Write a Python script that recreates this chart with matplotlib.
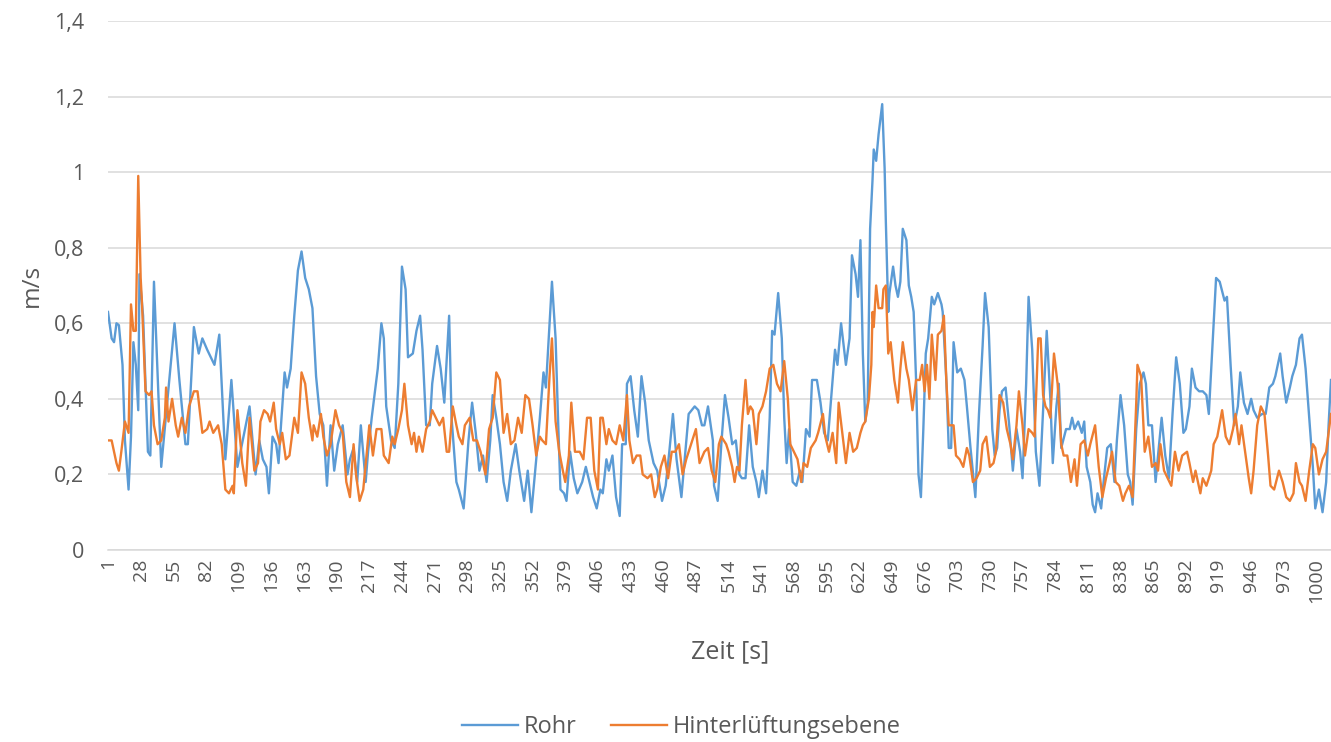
import matplotlib
matplotlib.use("Agg")
import matplotlib.pyplot as plt
from matplotlib.lines import Line2D

# Data (time in s, velocity in m/s)
rohr_t = [1, 4, 6, 8, 10, 13, 15, 18, 20, 22, 24, 26, 27, 30, 32, 34, 36, 39, 45, 56,
          60, 65, 67, 72, 76, 79, 83, 89, 93, 95, 98, 103, 108, 118,
          121, 123, 126, 129, 132, 134, 137, 140, 142, 144, 147, 149, 152, 155, 158, 161,
          164, 167, 170, 173, 176, 179, 182, 185, 188, 191, 195, 199, 201, 204, 207, 210,
          214, 216, 219, 224, 227, 229, 231, 235, 238, 241, 244,
          247, 249, 253, 256, 259, 261, 264, 267, 269, 273, 276, 279, 283, 285, 289, 291,
          295, 299, 302, 305, 308, 311, 314, 317, 319, 322, 325, 328, 331, 334, 338, 341,
          345, 348, 351, 355, 358, 361, 363, 366, 368,
          371, 373, 375, 378, 380, 383, 386, 389, 393, 396, 399, 402, 405, 408, 410, 413,
          415, 418, 421, 424, 426, 429, 430, 433, 436, 439, 442, 445, 448, 452, 455, 459,
          462, 465, 468, 471, 475, 478, 481, 486, 489, 492,
          494, 497, 501, 502, 505, 508, 511, 514, 517, 520, 523, 525, 528, 531, 534, 537,
          539, 542, 545, 548, 550, 552, 555, 558, 560, 562, 564, 567, 570, 573, 575, 578,
          581, 583, 587, 590, 593, 596, 599, 602, 604, 607, 611, 614,
          616, 619, 621, 623, 625, 627, 629, 631, 633, 634, 636, 638, 641, 643, 644, 646,
          647, 650, 652, 654, 656, 658, 661, 663, 665, 667, 669, 671, 673, 675, 677, 679,
          682, 684, 687, 690, 691, 694, 696, 698, 700, 703, 706, 709, 711, 714, 718, 721,
          724, 726, 729, 732, 734, 736,
          738, 740, 743, 746, 749, 752, 755, 757, 760, 762, 765, 768, 771, 774, 777, 780,
          782, 785, 787, 789, 793, 796, 798, 800, 803, 806, 808, 810, 813, 815, 817, 819,
          822, 824, 827, 830, 833, 835, 838, 841, 844, 846, 848, 851, 854, 857, 859,
          861, 864, 867, 869, 872, 875, 878, 881, 884, 887, 890, 892, 895, 897, 900, 903,
          906, 909, 911, 914, 917, 920, 924, 926, 929, 932, 935, 937, 940, 943, 946, 948,
          951, 955, 958, 961, 964, 966, 970, 972, 975, 978, 980, 983, 986, 988, 991, 994,
          997, 999, 1002, 1005, 1008, 1010, 1012]
rohr_v = [0.63, 0.56, 0.55, 0.60, 0.595, 0.49, 0.29, 0.16, 0.30, 0.55, 0.49, 0.37, 0.73, 0.62, 0.44, 0.26, 0.25, 0.71, 0.22, 0.60,
          0.45, 0.28, 0.28, 0.59, 0.52, 0.56, 0.53, 0.49, 0.57, 0.44, 0.24, 0.45, 0.22, 0.38,
          0.27, 0.20, 0.29, 0.24, 0.22, 0.15, 0.30, 0.28, 0.23, 0.33, 0.47, 0.43, 0.48, 0.62, 0.74, 0.79,
          0.72, 0.69, 0.64, 0.46, 0.36, 0.33, 0.17, 0.33, 0.21, 0.28, 0.33, 0.20, 0.24, 0.27, 0.18, 0.33,
          0.18, 0.26, 0.35, 0.48, 0.60, 0.56, 0.38, 0.29, 0.27, 0.44, 0.75,
          0.69, 0.51, 0.52, 0.58, 0.62, 0.53, 0.33, 0.33, 0.44, 0.54, 0.48, 0.39, 0.62, 0.35, 0.18, 0.16,
          0.11, 0.29, 0.39, 0.31, 0.21, 0.25, 0.18, 0.29, 0.41, 0.35, 0.28, 0.18, 0.13, 0.21, 0.28, 0.21,
          0.13, 0.21, 0.10, 0.24, 0.35, 0.47, 0.43, 0.60, 0.71,
          0.56, 0.35, 0.16, 0.15, 0.13, 0.26, 0.19, 0.15, 0.18, 0.22, 0.18, 0.14, 0.11, 0.16, 0.15, 0.24,
          0.21, 0.25, 0.14, 0.09, 0.28, 0.28, 0.44, 0.46, 0.37, 0.30, 0.46, 0.39, 0.29, 0.23, 0.21, 0.13,
          0.17, 0.26, 0.36, 0.24, 0.14, 0.25, 0.36, 0.38, 0.37, 0.33,
          0.33, 0.38, 0.29, 0.17, 0.13, 0.28, 0.41, 0.35, 0.28, 0.29, 0.20, 0.19, 0.19, 0.33, 0.22, 0.18,
          0.14, 0.21, 0.15, 0.35, 0.58, 0.57, 0.68, 0.56, 0.35, 0.23, 0.32, 0.18, 0.17, 0.21, 0.18, 0.32,
          0.30, 0.45, 0.45, 0.39, 0.31, 0.29, 0.41, 0.53, 0.49, 0.60, 0.49, 0.56,
          0.78, 0.73, 0.67, 0.82, 0.52, 0.34, 0.39, 0.85, 0.98, 1.06, 1.03, 1.10, 1.18, 1.01, 0.87, 0.63,
          0.68, 0.75, 0.70, 0.67, 0.71, 0.85, 0.82, 0.70, 0.67, 0.63, 0.45, 0.20, 0.14, 0.32, 0.52, 0.56,
          0.67, 0.65, 0.68, 0.65, 0.63, 0.45, 0.27, 0.27, 0.55, 0.47, 0.48, 0.45, 0.38, 0.27, 0.14, 0.36,
          0.54, 0.68, 0.59, 0.32, 0.25, 0.27,
          0.37, 0.42, 0.43, 0.33, 0.21, 0.32, 0.26, 0.19, 0.44, 0.67, 0.53, 0.26, 0.17, 0.37, 0.58, 0.40,
          0.23, 0.38, 0.44, 0.27, 0.32, 0.32, 0.35, 0.32, 0.34, 0.31, 0.34, 0.22, 0.18, 0.12, 0.10, 0.15,
          0.11, 0.18, 0.27, 0.28, 0.18, 0.29, 0.41, 0.33, 0.20, 0.18, 0.12, 0.32, 0.44, 0.47, 0.44,
          0.33, 0.33, 0.18, 0.25, 0.35, 0.25, 0.19, 0.36, 0.51, 0.44, 0.31, 0.32, 0.38, 0.48, 0.43, 0.42,
          0.42, 0.41, 0.36, 0.54, 0.72, 0.71, 0.66, 0.67, 0.49, 0.33, 0.38, 0.47, 0.39, 0.36, 0.40, 0.37,
          0.35, 0.36, 0.36, 0.43, 0.44, 0.46, 0.52, 0.46, 0.39, 0.43, 0.46, 0.49, 0.56, 0.57, 0.48, 0.35,
          0.22, 0.11, 0.16, 0.10, 0.18, 0.33, 0.45]

hint_t = [1, 4, 8, 10, 12, 15, 18, 20, 22, 24, 26, 28, 29, 30, 32, 35, 37, 39, 42, 45,
          48, 49, 51, 54, 57, 59, 62, 65, 68, 72, 75, 79, 83, 85, 88, 92, 95, 98, 101, 104,
          105, 108, 112, 115, 118,
          122, 125, 127, 130, 133, 135, 138, 140, 143, 145, 148, 151, 155, 158, 161, 164,
          167, 170, 171, 174, 177, 179, 182, 185, 189, 192, 195, 198, 201, 204, 206, 209,
          212, 215, 217, 220, 223, 227, 229, 233, 236, 238, 241, 244, 246,
          249, 252, 254, 256, 258, 261, 264, 267, 269, 272, 275, 278, 281, 283, 286, 289,
          291, 294, 296, 300, 303, 306, 309, 313, 316, 319, 322, 325, 328, 331, 334, 337,
          340, 343, 346, 349, 352, 355, 358, 360, 363, 366, 368,
          371, 374, 377, 379, 382, 384, 387, 391, 394, 397, 400, 403, 406, 408, 410, 413,
          415, 418, 421, 424, 427, 430, 432, 435, 438, 441, 443, 447, 450, 453, 455, 458,
          461, 464, 467, 470, 473, 476, 479, 483, 487,
          490, 494, 497, 500, 503, 506, 508, 512, 514, 517, 519, 521, 523, 525, 528, 530,
          532, 534, 537, 539, 542, 545, 548, 551, 554, 557, 560, 563, 565, 568, 571, 574,
          576, 579, 582, 586, 588, 592, 594, 597, 600, 603, 605, 608,
          611, 614, 617, 620, 623, 625, 627, 630, 632, 633, 634, 636, 638, 641, 642, 644,
          646, 648, 651, 654, 656, 658, 661, 663, 666, 669, 672, 674, 676, 678, 680, 682,
          685, 687, 690, 692, 694, 696, 700, 702, 705, 708, 711, 713, 716, 719, 722, 724,
          727, 730, 733, 735,
          738, 741, 744, 747, 749, 752, 754, 757, 759, 762, 765, 767, 770, 772, 774, 776,
          778, 780, 783, 786, 789, 791, 794, 797, 800, 802, 805, 808, 811, 813, 817, 820,
          823, 826, 829, 831, 834, 837, 840, 842, 845, 848, 851, 852, 855, 858,
          861, 864, 867, 869, 871, 874, 877, 880, 883, 886, 889, 893, 895, 898, 900, 904,
          906, 909, 913, 915, 918, 922, 925, 928, 931, 933, 936, 938, 941, 944, 946, 948,
          951, 954, 957, 960, 962, 965, 969, 972, 975, 978, 981, 983, 986, 988, 991, 994,
          997, 999, 1002, 1005, 1008, 1012]
hint_v = [0.29, 0.29, 0.23, 0.21, 0.26, 0.34, 0.31, 0.65, 0.58, 0.58, 0.99, 0.72, 0.66, 0.58, 0.42, 0.41, 0.42, 0.33, 0.28, 0.29,
          0.35, 0.43, 0.34, 0.40, 0.33, 0.30, 0.35, 0.31, 0.38, 0.42, 0.42, 0.31, 0.32, 0.34, 0.31, 0.33, 0.28, 0.16, 0.15, 0.17,
          0.15, 0.37, 0.23, 0.17, 0.35,
          0.21, 0.23, 0.34, 0.37, 0.36, 0.34, 0.39, 0.32, 0.28, 0.31, 0.24, 0.25, 0.35, 0.31, 0.47, 0.44,
          0.35, 0.29, 0.33, 0.30, 0.36, 0.30, 0.25, 0.28, 0.37, 0.33, 0.31, 0.18, 0.14, 0.28, 0.20, 0.13,
          0.16, 0.26, 0.33, 0.25, 0.32, 0.32, 0.25, 0.23, 0.30, 0.28, 0.32, 0.37, 0.44,
          0.33, 0.28, 0.31, 0.26, 0.30, 0.26, 0.32, 0.34, 0.37, 0.35, 0.33, 0.35, 0.26, 0.26, 0.38, 0.33,
          0.30, 0.28, 0.33, 0.35, 0.29, 0.29, 0.26, 0.20, 0.32, 0.35, 0.47, 0.45, 0.31, 0.36, 0.28, 0.29,
          0.35, 0.31, 0.41, 0.40, 0.33, 0.25, 0.30, 0.29, 0.28, 0.46, 0.56,
          0.34, 0.26, 0.21, 0.18, 0.25, 0.39, 0.26, 0.26, 0.24, 0.35, 0.35, 0.21, 0.16, 0.35, 0.35, 0.28,
          0.32, 0.29, 0.28, 0.33, 0.29, 0.41, 0.29, 0.23, 0.25, 0.25, 0.20, 0.19, 0.20, 0.14, 0.16, 0.22,
          0.25, 0.19, 0.26, 0.26, 0.28, 0.20, 0.24, 0.28, 0.32,
          0.23, 0.26, 0.27, 0.21, 0.18, 0.28, 0.30, 0.28, 0.26, 0.22, 0.18, 0.22, 0.21, 0.33, 0.45, 0.36,
          0.38, 0.37, 0.28, 0.36, 0.38, 0.42, 0.48, 0.49, 0.44, 0.42, 0.50, 0.40, 0.28, 0.26, 0.24, 0.18,
          0.23, 0.22, 0.27, 0.29, 0.31, 0.36, 0.30, 0.26, 0.31, 0.23, 0.39, 0.31,
          0.23, 0.31, 0.26, 0.27, 0.31, 0.33, 0.34, 0.40, 0.49, 0.63, 0.59, 0.70, 0.64, 0.64, 0.69, 0.70,
          0.52, 0.55, 0.45, 0.39, 0.48, 0.55, 0.48, 0.45, 0.37, 0.45, 0.45, 0.49, 0.42, 0.49, 0.40, 0.57,
          0.45, 0.57, 0.58, 0.62, 0.45, 0.33, 0.33, 0.25, 0.24, 0.22, 0.27, 0.25, 0.18, 0.19, 0.21, 0.28,
          0.30, 0.22, 0.23, 0.26,
          0.41, 0.39, 0.32, 0.28, 0.24, 0.33, 0.42, 0.33, 0.25, 0.32, 0.31, 0.30, 0.56, 0.56, 0.41, 0.38,
          0.37, 0.35, 0.52, 0.44, 0.28, 0.25, 0.25, 0.18, 0.24, 0.17, 0.28, 0.29, 0.25, 0.28, 0.33, 0.22,
          0.14, 0.19, 0.23, 0.26, 0.18, 0.17, 0.13, 0.15, 0.17, 0.14, 0.39, 0.49, 0.46, 0.26,
          0.30, 0.22, 0.23, 0.21, 0.28, 0.21, 0.19, 0.17, 0.26, 0.21, 0.25, 0.26, 0.23, 0.18, 0.21, 0.15,
          0.19, 0.17, 0.21, 0.28, 0.30, 0.37, 0.30, 0.28, 0.32, 0.36, 0.28, 0.33, 0.26, 0.19, 0.15, 0.21,
          0.33, 0.38, 0.36, 0.25, 0.17, 0.16, 0.21, 0.18, 0.14, 0.13, 0.15, 0.23, 0.18, 0.17, 0.13, 0.21,
          0.28, 0.27, 0.20, 0.24, 0.26, 0.36]

x_ticks = list(range(1, 1001, 27))
y_ticks = [0, 0.2, 0.4, 0.6, 0.8, 1.0, 1.2, 1.4]
y_labels = ['0', '0,2', '0,4', '0,6', '0,8', '1', '1,2', '1,4']

blue = '#5B9BD5'
orange = '#ED7D31'
grey_text = '#595959'
grid_col = '#D9D9D9'

plt.rcParams['font.family'] = ['Open Sans', 'DejaVu Sans']

fig = plt.figure(figsize=(13.31, 7.42), dpi=100)
ax = fig.add_axes([108 / 1331, 1 - 550 / 742, 1 - 108 / 1331, 529 / 742])

ax.plot(rohr_t, rohr_v, color=blue, lw=1.7, solid_joinstyle='round', zorder=3)
ax.plot(hint_t, hint_v, color=orange, lw=1.7, solid_joinstyle='round', zorder=4)

ax.set_xlim(1, 1012)
ax.set_ylim(0, 1.4)

ax.set_yticks(y_ticks)
ax.set_yticklabels(y_labels)
ax.set_xticks(x_ticks)
ax.set_xticklabels([str(t) for t in x_ticks], rotation=90)

ax.grid(axis='y', color=grid_col, lw=1.1)
ax.set_axisbelow(True)
for s in ['top', 'right', 'left']:
    ax.spines[s].set_visible(False)
ax.spines['bottom'].set_color(grid_col)
ax.spines['bottom'].set_linewidth(1.1)

ax.tick_params(axis='y', length=0, pad=17, labelsize=15.5, labelcolor=grey_text)
ax.tick_params(axis='x', length=0, pad=6, labelsize=14, labelcolor=grey_text)
for lbl in ax.get_xticklabels():
    lbl.set_va('top')

fig.text(32 / 1331, 1 - 285 / 742, 'm/s', rotation=90, ha='center', va='center',
         fontsize=17.5, color=grey_text)
fig.text(730 / 1331, 1 - 652 / 742, 'Zeit [s]', ha='center', va='center',
         fontsize=18, color=grey_text)

handles = [Line2D([], [], color=blue, lw=1.7), Line2D([], [], color=orange, lw=1.7)]
leg = fig.legend(handles, ['Rohr', 'Hinterlüftungsebene'], loc='center',
                 bbox_to_anchor=(681 / 1331, 1 - 727 / 742), ncol=2, frameon=False,
                 fontsize=17, handlelength=2.4, handletextpad=0.22, columnspacing=1.45)
for txt in leg.get_texts():
    txt.set_color(grey_text)

fig.savefig('out.png', dpi=100)
